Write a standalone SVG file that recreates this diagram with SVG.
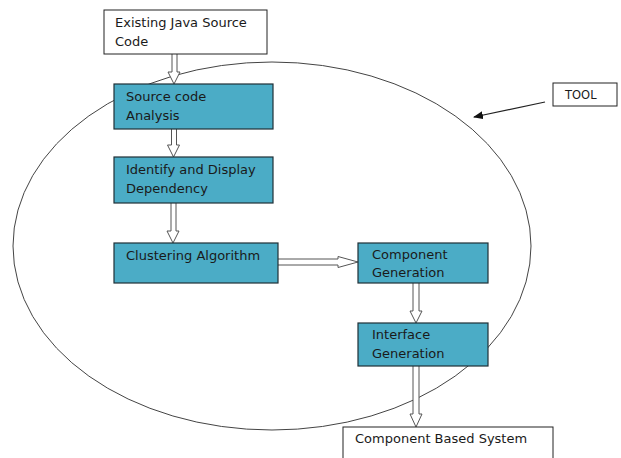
<svg xmlns="http://www.w3.org/2000/svg" width="621" height="458" viewBox="0 0 621 458">
<style>
.t{font-family:"DejaVu Sans",Verdana,sans-serif;font-size:13px;fill:#1a1a1a}
.wb{fill:#fff;stroke:#222;stroke-width:1}
.bb{fill:#4bacc6;stroke:#1f2f36;stroke-width:1.2}
.ar{fill:#fff;stroke:#555;stroke-width:1}
</style>
<defs>
<marker id="ah" markerWidth="10" markerHeight="8" refX="9" refY="4" orient="auto" markerUnits="userSpaceOnUse">
<path d="M0,0 L10,4 L0,8 Z" fill="#111"/>
</marker>
</defs>
<rect width="621" height="458" fill="#fff"/>
<g id="tool-boundary">
<ellipse cx="272" cy="246" rx="259" ry="184" fill="none" stroke="#444" stroke-width="1"/>
</g>
<g id="connectors">
<path class="ar" d="M172,54 V72 H168 L174,84 L180,72 H177 V54"/>
<path class="ar" d="M171.5,129 V145 H167.5 L173.5,157 L179.5,145 H176.5 V129"/>
<path class="ar" d="M171,203 V231 H167 L173,243 L179,231 H176 V203"/>
<path class="ar" d="M278,259 H338 V256.5 L358,262 L338,267.5 V265 H278"/>
<path class="ar" d="M413,283 V311 H410 L416,323 L422,311 H419 V283"/>
<path class="ar" d="M413,366 V414 H410 L416,427 L422,414 H419 V366"/>
<line x1="545" y1="102" x2="474" y2="117" stroke="#222" stroke-width="1.2" marker-end="url(#ah)"/>
</g>
<g id="existing">
<rect class="wb" x="104" y="10" width="163" height="44"/>
<text class="t" x="115" y="27">Existing Java Source</text>
<text class="t" x="115" y="46">Code</text>
</g>
<g id="source-analysis">
<rect class="bb" x="114" y="84" width="159" height="45"/>
<text class="t" x="126" y="101">Source code</text>
<text class="t" x="126" y="120">Analysis</text>
</g>
<g id="identify">
<rect class="bb" x="114" y="157" width="159" height="46"/>
<text class="t" x="126" y="174">Identify and Display</text>
<text class="t" x="126" y="193">Dependency</text>
</g>
<g id="clustering">
<rect class="bb" x="114" y="243" width="164" height="40"/>
<text class="t" x="126" y="260">Clustering Algorithm</text>
</g>
<g id="component-gen">
<rect class="bb" x="358" y="243" width="130" height="40"/>
<text class="t" x="372" y="259">Component</text>
<text class="t" x="372" y="277">Generation</text>
</g>
<g id="interface-gen">
<rect class="bb" x="358" y="323" width="130" height="43"/>
<text class="t" x="372" y="339">Interface</text>
<text class="t" x="372" y="358">Generation</text>
</g>
<g id="cbs">
<rect class="wb" x="343" y="427" width="210" height="40"/>
<text class="t" x="355" y="443">Component Based System</text>
</g>
<g id="tool">
<rect class="wb" x="553" y="83" width="64" height="23"/>
<text class="t" x="565" y="99" style="font-size:11.5px">TOOL</text>
</g>
</svg>
